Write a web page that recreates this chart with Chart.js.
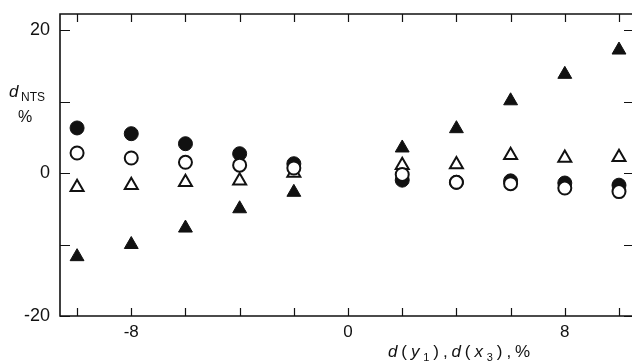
<!DOCTYPE html>
<html>
<head>
<meta charset="utf-8">
<script src="https://cdn.jsdelivr.net/npm/chart.js@4.4.1/dist/chart.umd.min.js"></script>
<style>
  html, body { margin: 0; padding: 0; background: #fff; }
  #wrap { width: 632px; height: 364px; }
</style>
</head>
<body>
<div id="wrap"><canvas id="chart" width="632" height="364"></canvas></div>
<script>
// deviation values, x = d(y1), d(x3) in %
var xValues = [-10, -8, -6, -4, -2, 2, 4, 6, 8, 10];
var filledCircle = [6.3, 5.5, 4.1, 2.7, 1.3, -1.0, -1.3, -1.1, -1.4, -1.7];
var openCircle = [2.8, 2.1, 1.5, 1.1, 0.7, -0.2, -1.3, -1.5, -2.1, -2.6];
var openTriangle = [-2.0, -1.7, -1.3, -1.1, 0.0, 1.1, 1.2, 2.5, 2.1, 2.2];
var filledTriangle = [-11.7, -10.0, -7.7, -5.0, -2.7, 3.5, 6.2, 10.1, 13.8, 17.2];

var xTicks = [-10, -8, -6, -4, -2, 0, 2, 4, 6, 8, 10];
var xLabels = [-8, 0, 8];
var yTicks = [-20, -10, 0, 10, 20];
var yLabels = [-20, 0, 20];

var FONT = '"Liberation Sans", Arial, sans-serif';

function points(ys) {
    return xValues.map(function (x, i) { return {x: x, y: ys[i]}; });
}

// frame with inward ticks, axis titles
var framePlugin = {
    id: 'frame',
    afterDraw: function (chart) {
        var ctx = chart.ctx;
        var a = chart.chartArea;
        var xs = chart.scales.x, ys = chart.scales.y;
        ctx.save();
        ctx.strokeStyle = '#111';
        ctx.lineWidth = 1.6;
        ctx.beginPath();
        ctx.moveTo(a.right + 2, a.top);
        ctx.lineTo(a.left, a.top);
        ctx.lineTo(a.left, a.bottom);
        ctx.lineTo(a.right + 2, a.bottom);
        ctx.stroke();

        ctx.lineWidth = 1.2;
        ctx.beginPath();
        xTicks.forEach(function (v) {
            var px = Math.round(xs.getPixelForValue(v)) + 0.5;
            ctx.moveTo(px, a.bottom); ctx.lineTo(px, a.bottom - 8);
            ctx.moveTo(px, a.top); ctx.lineTo(px, a.top + 8);
        });
        yTicks.forEach(function (v) {
            var py = Math.round(ys.getPixelForValue(v)) + 0.5;
            ctx.moveTo(a.left, py); ctx.lineTo(a.left + 10, py);
            ctx.moveTo(a.right, py); ctx.lineTo(a.right - 8, py);
        });
        ctx.stroke();

        // y title: d_NTS %
        ctx.fillStyle = '#111';
        ctx.textBaseline = 'alphabetic';
        ctx.textAlign = 'left';
        ctx.font = 'italic 17px ' + FONT;
        ctx.fillText('d', 9, 97);
        ctx.font = '12px ' + FONT;
        ctx.fillText('NTS', 21, 101);
        ctx.font = '16px ' + FONT;
        ctx.fillText('%', 18, 122);

        // x title: d(y1),d(x3),%
        var parts = [
            ['italic 17px', 'd', 0], ['17px', '(', 0], ['italic 17px', 'y', 0], ['11px', '1', 4],
            ['17px', '),', 0], ['italic 17px', 'd', 0], ['17px', '(', 0],
            ['italic 17px', 'x', 0], ['11px', '3', 4], ['17px', '),', 0], ['17px', '%', 0]
        ];
        var x = 388, base = 357;
        parts.forEach(function (p) {
            ctx.font = p[0] + ' ' + FONT;
            for (var i = 0; i < p[1].length; i++) {
                var ch = p[1][i];
                ctx.fillText(ch, x, base + p[2]);
                x += ctx.measureText(ch).width + 3.9;
            }
        });
        ctx.restore();
    }
};

new Chart('chart', {
    type: 'scatter',
    data: {
        datasets: [{
            label: 'open circle',
            data: points(openCircle),
            pointStyle: 'circle',
            pointRadius: 6.5,
            backgroundColor: '#fff',
            borderColor: '#111',
            borderWidth: 2,
            order: 1
        }, {
            label: 'filled circle',
            data: points(filledCircle),
            pointStyle: 'circle',
            pointRadius: 7,
            backgroundColor: '#111',
            borderColor: '#111',
            borderWidth: 1,
            order: 2
        }, {
            label: 'open triangle',
            data: points(openTriangle),
            pointStyle: 'triangle',
            pointRadius: 7.5,
            backgroundColor: '#fff',
            borderColor: '#111',
            borderWidth: 2,
            order: 3
        }, {
            label: 'filled triangle',
            data: points(filledTriangle),
            pointStyle: 'triangle',
            pointRadius: 8,
            backgroundColor: '#111',
            borderColor: '#111',
            borderWidth: 1,
            order: 4
        }]
    },
    options: {
        responsive: false,
        animation: false,
        layout: { autoPadding: false, padding: { top: 14, right: 0, left: 0, bottom: 0 } },
        plugins: {
            legend: { display: false },
            tooltip: { enabled: false }
        },
        scales: {
            x: {
                type: 'linear',
                min: -10.63,
                max: 10.48,
                afterFit: function (s) {
                    s.height = 48;
                    s.paddingLeft = 0; s.paddingRight = 0;
                },
                afterBuildTicks: function (s) {
                    s.ticks = xTicks.map(function (v) { return {value: v}; });
                },
                grid: { display: false, drawTicks: false },
                border: { display: false },
                ticks: {
                    autoSkip: false,
                    maxRotation: 0,
                    padding: 6,
                    color: '#111',
                    font: { family: FONT, size: 17 },
                    callback: function (v) { return xLabels.indexOf(v) >= 0 ? String(v) : ''; }
                }
            },
            y: {
                type: 'linear',
                min: -20,
                max: 22.24,
                afterFit: function (s) {
                    s.width = 60;
                    s.paddingTop = 0; s.paddingBottom = 0;
                },
                afterBuildTicks: function (s) {
                    s.ticks = yTicks.map(function (v) { return {value: v}; });
                },
                grid: { display: false, drawTicks: false },
                border: { display: false },
                ticks: {
                    autoSkip: false,
                    padding: 10,
                    color: '#111',
                    font: { family: FONT, size: 18 },
                    callback: function (v) { return yLabels.indexOf(v) >= 0 ? String(v) : ''; }
                }
            }
        }
    },
    plugins: [framePlugin]
});
</script>
</body>
</html>
